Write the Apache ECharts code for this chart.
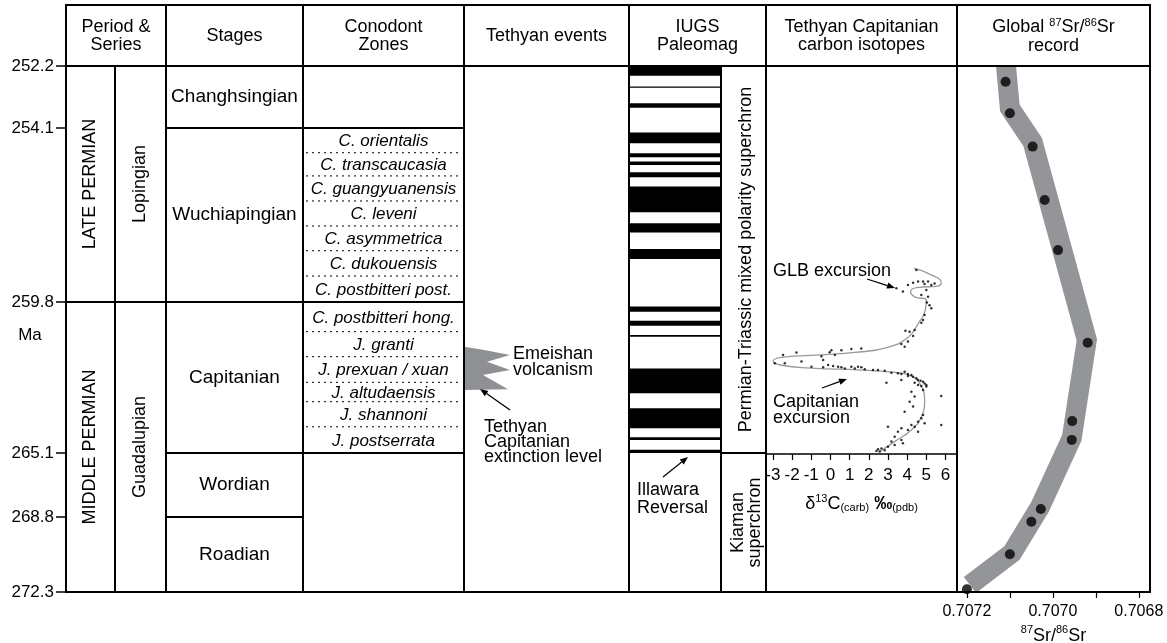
<!DOCTYPE html>
<html>
<head>
<meta charset="utf-8">
<script src="https://cdn.jsdelivr.net/npm/echarts@6/dist/echarts.min.js"></script>
<style>
html, body { margin: 0; padding: 0; background: #fff; }
#chart { width: 1167px; height: 643px; }
</style>
</head>
<body>
<div id="chart"></div>
<script>
// stage boundaries (Ma) and where they sit on the uneven depth axis
const boundaryMa = [252.2, 254.1, 259.8, 265.1, 268.8, 272.3];
const boundaryDepth = [0, 62, 236, 387, 451, 526];

const periods = [['LATE PERMIAN', 252.2, 259.8], ['MIDDLE PERMIAN', 259.8, 272.3]];
const epochs = [['Lopingian', 252.2, 259.8], ['Guadalupian', 259.8, 272.3]];
const stages = [
  ['Changhsingian', 252.2, 254.1], ['Wuchiapingian', 254.1, 259.8], ['Capitanian', 259.8, 265.1],
  ['Wordian', 265.1, 268.8], ['Roadian', 268.8, 272.3]
];
const conodontBlocks = [[252.2, 254.1], [254.1, 259.8], [259.8, 265.1], [265.1, 272.3]];
const conodontZones = [
  ['C. orientalis', 254.1, 254.91], ['C. transcaucasia', 254.91, 255.67],
  ['C. guangyuanensis', 255.67, 256.49], ['C. leveni', 256.49, 257.31],
  ['C. asymmetrica', 257.31, 258.12], ['C. dukouensis', 258.12, 258.95],
  ['C. postbitteri post.', 258.95, 259.8],
  ['C. postbitteri hong.', 259.8, 260.84], ['J. granti', 260.84, 261.72],
  ['J. prexuan / xuan', 261.72, 262.62], ['J. altudaensis', 262.62, 263.30],
  ['J. shannoni', 263.30, 264.18], ['J. postserrata', 264.18, 265.1]
];
// black (normal polarity) intervals, Ma
const normalPolarity = [
  [252.2, 252.50], [252.83, 252.86], [253.34, 253.48], [254.25, 254.60], [254.93, 255.06],
  [255.20, 255.31], [255.55, 255.71], [256.02, 256.86], [257.22, 257.52], [258.06, 258.39],
  [259.96, 260.14], [260.46, 260.63], [260.96, 261.02], [262.13, 263.00], [263.53, 264.23],
  [264.55, 264.64], [264.99, 265.1]
];
const superchrons = [
  ['Permian-Triassic mixed polarity superchron', 252.2, 265.1],
  ['Kiaman\nsuperchron', 265.1, 272.3]
];
// Emeishan volcanism wedge: [reach into column, Ma]
const volcanism = [
  [0, 261.37], [19, 261.48], [46, 261.66], [23, 261.90], [46, 262.19],
  [19, 262.36], [44, 262.86], [0, 262.89]
];

// carbon isotopes: [d13C, Ma]
const carbonCurve = [
  [4.36, 258.70], [5.09, 258.86], [5.78, 259.17], [5.61, 259.28], [4.57, 259.32], [4.18, 259.46],
  [4.39, 259.63], [5.00, 259.74], [4.95, 260.08], [4.57, 260.57], [4.05, 261.04], [3.00, 261.39],
  [1.27, 261.57], [-0.99, 261.67], [-2.55, 261.74], [-2.99, 261.87], [-2.55, 262.02], [-0.99, 262.12],
  [1.61, 262.19], [3.35, 262.27], [4.22, 262.40], [4.70, 262.71], [4.91, 263.24], [4.74, 263.83],
  [4.22, 264.29], [3.35, 264.70], [2.57, 265.05]
];
const carbonPoints = [
  [4.48, 258.75], [4.31, 259.17], [4.04, 259.24], [3.78, 259.46], [3.44, 259.35], [4.83, 259.13],
  [4.91, 259.21], [5.09, 259.13], [5.26, 259.24], [4.57, 259.13], [5.43, 259.19], [5.00, 259.41],
  [4.74, 259.57], [5.09, 259.63], [5.03, 259.82], [5.17, 259.91], [5.26, 260.02], [4.91, 260.26],
  [4.83, 260.43], [4.74, 260.53], [4.39, 260.78], [4.13, 260.84], [3.91, 260.81], [4.31, 260.99],
  [4.04, 261.19], [3.70, 261.27], [3.87, 261.37], [1.61, 261.43], [1.09, 261.45], [0.57, 261.49],
  [0.05, 261.49], [-0.04, 261.56], [-0.47, 261.70], [0.23, 261.66], [-1.77, 261.57], [-2.47, 261.66],
  [-2.90, 261.95], [-2.38, 261.95], [-1.51, 261.89], [-0.38, 261.84], [-0.12, 262.01], [0.14, 262.05],
  [0.40, 262.07], [-0.99, 262.07], [-0.38, 262.09], [0.57, 262.09], [0.75, 262.13], [1.09, 262.07],
  [1.44, 262.07], [1.61, 262.09], [1.27, 262.13], [1.79, 262.16], [2.22, 262.19], [2.48, 262.19],
  [2.83, 262.21], [3.18, 262.28], [3.52, 262.30], [3.70, 262.33], [3.87, 262.25], [4.04, 262.33],
  [4.22, 262.36], [4.31, 262.42], [4.48, 262.48], [4.57, 262.54], [4.70, 262.56], [4.83, 262.60],
  [4.91, 262.66], [5.00, 262.71], [4.57, 262.71], [4.39, 262.63], [4.04, 262.40], [3.70, 262.54],
  [2.92, 262.63], [4.74, 262.75], [4.22, 262.95], [4.39, 263.12], [4.83, 262.89], [5.00, 262.77],
  [5.78, 263.10], [4.13, 263.30], [4.31, 263.47], [3.87, 263.65], [4.83, 263.77], [4.74, 263.88],
  [4.57, 264.00], [4.91, 264.06], [4.39, 264.18], [4.22, 264.12], [4.04, 264.29], [3.70, 264.23],
  [3.52, 264.35], [4.57, 264.35], [3.35, 264.53], [3.00, 264.18], [3.18, 264.70], [3.70, 264.64],
  [3.78, 264.76], [3.35, 264.82], [3.00, 264.88], [2.83, 265.00], [2.66, 264.94], [2.57, 265.05],
  [2.48, 264.97], [2.40, 265.03], [5.78, 264.12]
];
const carbonTicks = [-3, -2, -1, 0, 1, 2, 3, 4, 5, 6];

// strontium: [87Sr/86Sr, Ma]
const srBand = [
  [0.707109, 252.2], [0.707100, 253.49], [0.707047, 254.56], [0.706921, 261.13],
  [0.706956, 264.57], [0.707030, 268.22], [0.707095, 270.48], [0.707193, 271.97]
];
const srPoints = [
  [0.707110, 252.68], [0.707100, 253.65], [0.707047, 254.71], [0.707019, 256.46],
  [0.706988, 258.10], [0.706919, 261.23], [0.706955, 263.98], [0.706956, 264.64],
  [0.707028, 268.34], [0.707050, 269.02], [0.707100, 270.54], [0.707200, 272.17]
];
const srTicks = [0.7072, 0.7071, 0.7070, 0.7069, 0.7068];
const srLabels = [0.7072, 0.7070, 0.7068];

// ---- layout ----
const FONT = 'Liberation Sans';
const TOP = 66, BOTTOM = 592, LEFT = 66, RIGHT = 1150;
// column edges relative to LEFT
const col = { period: [0, 49], epoch: [49, 100], stage: [100, 237], conodont: [237, 398],
  events: [398, 563], polarity: [563, 655], superchron: [655, 700], carbon: [700, 891], sr: [891, 1084] };

function maToDepth(ma) {
  for (let i = 0; i < boundaryMa.length - 1; i++) {
    if (ma <= boundaryMa[i + 1] || i === boundaryMa.length - 2) {
      const t = (ma - boundaryMa[i]) / (boundaryMa[i + 1] - boundaryMa[i]);
      return boundaryDepth[i] + t * (boundaryDepth[i + 1] - boundaryDepth[i]);
    }
  }
}

// a column of boxed cells with a label in each
function cellSeries(rows, c, opt) {
  opt = opt || {};
  return {
    type: 'custom', xAxisIndex: 0, yAxisIndex: 0, z: opt.z || 3,
    data: rows.map(r => [c[0], c[1], maToDepth(r[r.length - 2]), maToDepth(r[r.length - 1])]),
    renderItem: function (params, api) {
      const p0 = api.coord([api.value(0), api.value(2)]);
      const p1 = api.coord([api.value(1), api.value(3)]);
      const row = rows[params.dataIndex];
      const children = [{
        type: 'rect', shape: { x: p0[0], y: p0[1], width: p1[0] - p0[0], height: p1[1] - p0[1] },
        style: { fill: null, stroke: '#000', lineWidth: opt.lw || 2 }
      }];
      if (typeof row[0] === 'string') {
        children.push({
          type: 'text', x: (p0[0] + p1[0]) / 2 + (opt.dx || 0), y: (p0[1] + p1[1]) / 2,
          rotation: opt.rotate ? Math.PI / 2 : 0,
          style: { text: row[0], x: 0, y: 0, align: 'center', verticalAlign: 'middle',
            fontSize: opt.fontSize || 18, fontFamily: FONT,
            lineHeight: opt.lineHeight || 18, fill: '#000' }
        });
      }
      return { type: 'group', children: children };
    }
  };
}

const zoneSeries = {
  type: 'custom', xAxisIndex: 0, yAxisIndex: 0, z: 3,
  data: conodontZones.map(r => [col.conodont[0], col.conodont[1], maToDepth(r[1]), maToDepth(r[2])]),
  renderItem: function (params, api) {
    const p0 = api.coord([api.value(0), api.value(2)]);
    const p1 = api.coord([api.value(1), api.value(3)]);
    const row = conodontZones[params.dataIndex];
    const children = [{
      type: 'text', x: (p0[0] + p1[0]) / 2, y: (p0[1] + p1[1]) / 2 + 1,
      style: { text: row[0], align: 'center', verticalAlign: 'middle', fontSize: 17,
        fontFamily: FONT, fontStyle: 'italic', fill: '#000' }
    }];
    if (boundaryMa.indexOf(row[2]) < 0) {
      children.push({
        type: 'line', shape: { x1: p0[0] + 3, y1: p1[1], x2: p1[0] - 3, y2: p1[1] },
        style: { stroke: '#000', lineWidth: 1, lineDash: [2, 4] }
      });
    }
    return { type: 'group', children: children };
  }
};

const polaritySeries = {
  type: 'custom', xAxisIndex: 0, yAxisIndex: 0, z: 2,
  data: normalPolarity.map(r => [col.polarity[0], col.polarity[1], maToDepth(r[0]), maToDepth(r[1])]),
  renderItem: function (params, api) {
    const p0 = api.coord([api.value(0), api.value(2)]);
    const p1 = api.coord([api.value(1), api.value(3)]);
    return { type: 'rect', shape: { x: p0[0], y: p0[1], width: p1[0] - p0[0], height: Math.max(1.2, p1[1] - p0[1]) },
      style: { fill: '#000' } };
  }
};

const volcanismSeries = {
  type: 'custom', xAxisIndex: 0, yAxisIndex: 0, z: 2,
  data: [[0]],
  renderItem: function (params, api) {
    const pts = volcanism.map(p => api.coord([col.events[0] + p[0], maToDepth(p[1])]));
    return { type: 'polygon', shape: { points: pts }, style: { fill: '#8f9094' } };
  }
};

function arrow(x1, y1, x2, y2) {
  const a = Math.atan2(y2 - y1, x2 - x1), L = 8, W = 3.2;
  const bx = x2 - L * Math.cos(a), by = y2 - L * Math.sin(a);
  return [
    { type: 'line', shape: { x1: x1, y1: y1, x2: bx, y2: by }, style: { stroke: '#000', lineWidth: 1.3 } },
    { type: 'polygon', shape: { points: [[x2, y2], [bx + W * Math.sin(a), by - W * Math.cos(a)], [bx - W * Math.sin(a), by + W * Math.cos(a)]] },
      style: { fill: '#000' } }
  ];
}

function label(x, y, text, opt) {
  opt = opt || {};
  return { type: 'text', x: x, y: y, z: 10,
    style: { text: text, align: opt.align || 'left', verticalAlign: 'middle', fontSize: opt.fontSize || 18,
      fontFamily: FONT, lineHeight: opt.lineHeight || 16, fill: '#000' } };
}

const supRich = {
  n: { fontSize: 18, fontFamily: FONT, verticalAlign: 'bottom', lineHeight: 20, color: '#000' },
  b: { fontSize: 18, fontFamily: FONT, fontWeight: 'bold', verticalAlign: 'bottom', lineHeight: 20, color: '#000' },
  sup: { fontSize: 11, fontFamily: FONT, verticalAlign: 'top', lineHeight: 20, color: '#000' },
  sub: { fontSize: 11, fontFamily: FONT, verticalAlign: 'bottom', lineHeight: 20, color: '#000' }
};

const headerEdges = [66, 166, 303, 464, 629, 766, 957, 1150];
const headerTexts = ['Period &\nSeries', 'Stages', 'Conodont\nZones', 'Tethyan events', 'IUGS\nPaleomag',
  'Tethyan Capitanian\ncarbon isotopes', null];
const graphics = [];
for (let i = 0; i < headerEdges.length - 1; i++) {
  graphics.push({ type: 'rect', shape: { x: headerEdges[i], y: 5, width: headerEdges[i + 1] - headerEdges[i], height: TOP - 5 },
    style: { fill: null, stroke: '#000', lineWidth: 2 } });
  const cx = (headerEdges[i] + headerEdges[i + 1]) / 2;
  if (headerTexts[i]) {
    graphics.push(label(cx, 36, headerTexts[i], { align: 'center', lineHeight: 18 }));
  }
}
graphics.push({ type: 'text', x: (957 + 1150) / 2, y: 36, z: 10,
  style: { text: '{n|Global }{sup|87}{n|Sr/}{sup|86}{n|Sr}\n{n|record}', align: 'center', verticalAlign: 'middle', rich: {
    n: { fontSize: 18, fontFamily: FONT, lineHeight: 19, verticalAlign: 'bottom' },
    sup: { fontSize: 11, fontFamily: FONT, lineHeight: 19, verticalAlign: 'top' } } } });

graphics.push(label(30, 335, 'Ma', { align: 'center', fontSize: 17 }));
graphics.push(label(513, 362, 'Emeishan\nvolcanism', { lineHeight: 15.5 }));
graphics.push(label(484, 442, 'Tethyan\nCapitanian\nextinction level', { lineHeight: 15 }));
graphics.push(label(637, 499, 'Illawara\nReversal', { lineHeight: 18 }));
graphics.push(label(773, 271, 'GLB excursion'));
graphics.push(label(773, 410, 'Capitanian\nexcursion', { lineHeight: 16 }));
[[510, 410, 480, 389], [663, 477, 688, 457], [867, 279, 895, 288], [822, 388, 847, 379]]
  .forEach(a => arrow.apply(null, a).forEach(g => { g.z = 10; graphics.push(g); }));

const option = {
  animation: false,
  backgroundColor: '#fff',
  textStyle: { fontFamily: FONT },
  grid: [
    { left: LEFT, top: TOP, width: RIGHT - LEFT, height: BOTTOM - TOP, outerBoundsMode: 'none', containLabel: false },
    { left: 766, top: TOP, width: 191, height: 388, outerBoundsMode: 'none', containLabel: false },
    { left: 957, top: TOP, width: 193, height: BOTTOM - TOP, outerBoundsMode: 'none', containLabel: false }
  ],
  xAxis: [
    { gridIndex: 0, type: 'value', min: 0, max: RIGHT - LEFT, show: false },
    { gridIndex: 1, type: 'value', min: -3.36, max: 6.6, position: 'bottom',
      axisLine: { onZero: false, lineStyle: { color: '#000', width: 1.5 } },
      axisTick: { customValues: carbonTicks, length: 6, lineStyle: { color: '#000', width: 1.2 } },
      axisLabel: { customValues: carbonTicks, color: '#000', fontSize: 17, fontFamily: FONT, margin: 13 },
      splitLine: { show: false },
      name: '{n|δ}{sup|13}{n|C}{sub|(carb)}{b| ‰}{sub|(pdb)}', nameLocation: 'middle', nameGap: 39,
      nameTextStyle: { rich: supRich } },
    { gridIndex: 2, type: 'value', inverse: true, min: 0.706774, max: 0.707223, position: 'bottom',
      axisLine: { onZero: false, lineStyle: { color: '#000', width: 1.5 } },
      axisTick: { customValues: srTicks, length: 6, lineStyle: { color: '#000', width: 1.2 } },
      axisLabel: { customValues: srLabels, color: '#000', fontSize: 16, fontFamily: FONT, margin: 12,
        formatter: v => v.toFixed(4) },
      splitLine: { show: false },
      name: '{sup|87}{n|Sr/}{sup|86}{n|Sr}', nameLocation: 'middle', nameGap: 29,
      nameTextStyle: { rich: supRich } }
  ],
  yAxis: [
    { gridIndex: 0, type: 'value', min: 0, max: BOTTOM - TOP, inverse: true,
      axisLine: { show: false },
      axisTick: { show: true, customValues: boundaryDepth, length: 10, lineStyle: { color: '#000', width: 1.5 } },
      axisLabel: { customValues: boundaryDepth, color: '#000', fontSize: 17, fontFamily: FONT, margin: 12,
        formatter: v => {
          const i = boundaryDepth.findIndex(d => Math.abs(d - v) < 0.01);
          return i < 0 ? '' : boundaryMa[i].toFixed(1);
        } },
      splitLine: { show: false } },
    { gridIndex: 1, type: 'value', min: 0, max: 388, inverse: true, show: false },
    { gridIndex: 2, type: 'value', min: 0, max: BOTTOM - TOP, inverse: true, show: false }
  ],
  graphic: graphics,
  series: [
    cellSeries(periods, col.period, { rotate: true, fontSize: 18 }),
    cellSeries(epochs, col.epoch, { rotate: true, fontSize: 18 }),
    cellSeries(stages, col.stage, { fontSize: 19 }),
    cellSeries(conodontBlocks, col.conodont),
    zoneSeries,
    cellSeries([[252.2, 272.3]], col.events),
    volcanismSeries,
    polaritySeries,
    cellSeries([[252.2, 272.3]], col.polarity, { z: 4 }),
    cellSeries(superchrons, col.superchron, { rotate: true, fontSize: 18, lineHeight: 17, dx: 3 }),
    cellSeries([[252.2, 272.3]], col.carbon),
    cellSeries([[252.2, 272.3]], col.sr),
    { type: 'line', xAxisIndex: 1, yAxisIndex: 1, smooth: 0.5, symbol: 'none', z: 3,
      data: carbonCurve.map(p => [p[0], maToDepth(p[1])]),
      lineStyle: { color: '#9a9a9a', width: 1.3 } },
    { type: 'scatter', xAxisIndex: 1, yAxisIndex: 1, symbolSize: 2.5, z: 4,
      data: carbonPoints.map(p => [p[0], maToDepth(p[1])]),
      itemStyle: { color: '#000' } },
    { type: 'line', xAxisIndex: 2, yAxisIndex: 2, symbol: 'none', z: 2,
      data: srBand.map(p => [p[0], maToDepth(p[1])]),
      lineStyle: { color: '#939598', width: 20, join: 'miter', cap: 'butt' } },
    { type: 'scatter', xAxisIndex: 2, yAxisIndex: 2, symbolSize: 10, z: 4,
      data: srPoints.map(p => [p[0], maToDepth(p[1])]),
      itemStyle: { color: '#000' } }
  ]
};

const chart = echarts.init(document.getElementById('chart'));
chart.setOption(option);
</script>
</body>
</html>
